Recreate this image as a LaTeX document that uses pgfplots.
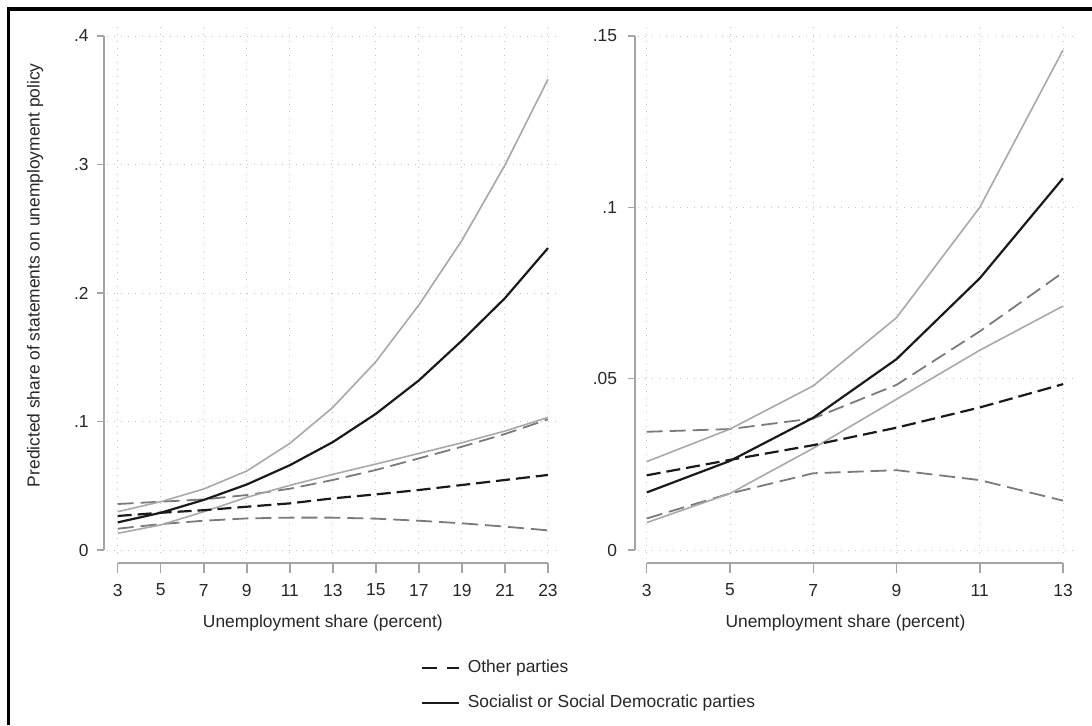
\documentclass[border=0pt]{standalone}
\usepackage{pgfplots}
\pgfplotsset{compat=1.18}
\usepackage{pgfplotstable}
\usepackage{fontspec}
\setmainfont{Liberation Sans}

\definecolor{cilight}{HTML}{A8A8A8}
\definecolor{cidark}{HTML}{7A7A7A}
\definecolor{estc}{HTML}{1A1A1A}
\definecolor{gridc}{HTML}{C4C4C4}
\definecolor{axc}{HTML}{A4A4A4}
\definecolor{txt}{HTML}{262626}

\pgfplotstableread{
x soc sochi soclo oth othhi othlo
3  0.0215 0.0298 0.0130 0.0265 0.0358 0.0166
5  0.0290 0.0376 0.0195 0.0290 0.0376 0.0202
7  0.0390 0.0475 0.0298 0.0310 0.0394 0.0228
9  0.0510 0.0615 0.0410 0.0337 0.0428 0.0246
11 0.0660 0.0830 0.0503 0.0363 0.0477 0.0252
13 0.0840 0.1110 0.0589 0.0402 0.0545 0.0252
15 0.1060 0.1466 0.0669 0.0433 0.0623 0.0244
17 0.1320 0.1907 0.0752 0.0467 0.0713 0.0228
19 0.1630 0.2410 0.0835 0.0506 0.0804 0.0208
21 0.1960 0.2996 0.0926 0.0545 0.0903 0.0182
23 0.2350 0.3663 0.1032 0.0584 0.1017 0.0153
}\leftdata

\pgfplotstableread{
x soc sochi soclo oth othhi othlo
3  0.0168 0.0258 0.0080 0.0218 0.0345 0.0092
5  0.0260 0.0353 0.0165 0.0263 0.0353 0.0165
7  0.0386 0.0479 0.0297 0.0306 0.0384 0.0224
9  0.0557 0.0678 0.0440 0.0357 0.0482 0.0233
11 0.0793 0.1000 0.0583 0.0416 0.0638 0.0204
13 0.1085 0.1459 0.0712 0.0484 0.0810 0.0144
}\rightdata

\tikzset{
  cil/.style={cilight, line width=0.8pt},
  cid/.style={cidark, line width=0.9pt, dash pattern=on 8pt off 3.5pt},
  pest/.style={estc, line width=1.1pt},
  oest/.style={estc, line width=1.1pt, dash pattern=on 7pt off 3pt},
  axl/.style={axc, line width=0.75pt},
}

\pgfplotsset{
  stataaxis/.style={
    scale only axis, height=264pt, clip=false,
    axis line style={draw=none}, tick style={draw=none},
    grid=major,
    grid style={gridc, line width=0.5pt, dash pattern=on 0.5pt off 3pt},
    xticklabel style={anchor=center, inner sep=0pt, yshift=-18.5pt,
      font=\fontsize{8.7}{10}\selectfont, text=txt},
    yticklabel style={anchor=east, inner sep=0pt,
      font=\fontsize{8.7}{10}\selectfont, text=txt},
    xlabel style={font=\fontsize{8.7}{10}\selectfont, text=txt, anchor=center, yshift=-35pt},
    ylabel style={font=\fontsize{8.7}{10}\selectfont, text=txt},
  },
}

\begin{document}
\begin{tikzpicture}
\useasboundingbox (0,0) rectangle (546pt,-362.5pt);
\draw[black, line width=1.6pt, line join=miter] (546pt,-4.5pt) -- (4.2pt,-4.5pt) -- (4.2pt,-362.5pt);

% ---------- left panel ----------
\begin{axis}[stataaxis,
  at={(53.35pt,-276.5pt)}, anchor=south west,
  width=226.15pt,
  xmin=2.488, xmax=23.512, ymin=-0.00233, ymax=0.40856,
  xtick={3,5,7,9,11,13,15,17,19,21,23},
  xticklabels={3,5,7,9,11,13,15,17,19,21,23},
  ytick={0,0.1,0.2,0.3,0.4},
  yticklabels={0,.1,.2,.3,.4},
  yticklabel style={xshift=-8.85pt},
  xlabel={Unemployment share (percent)},
  xlabel style={at={(axis description cs:0.478,0)}},
  ylabel={Predicted share of statements on unemployment policy},
  ylabel style={at={(axis description cs:-0.1585,0.928)}, anchor=east, inner sep=0pt},
  legend style={at={(axis description cs:0.6927,-0.1950)}, anchor=north west,
    draw=none, fill=none, inner sep=0pt,
    font=\fontsize{8.7}{10}\selectfont, text=txt,
    row sep=5.5pt,
    /tikz/every odd column/.append style={column sep=2pt}},
  legend cell align=left,
  legend image code/.code={\draw[#1] (0pt,0pt) -- (18.5pt,0pt);},
]
\draw[axl] (axis cs:2.362,0) -- (axis cs:2.362,0.4);
\pgfplotsinvokeforeach{0,0.1,0.2,0.3,0.4}{\draw[axl] (axis cs:2.362,#1) -- (axis cs:2.036,#1);}
\draw[axl] (axis cs:3,-0.0101) -- (axis cs:23,-0.0101);
\pgfplotsinvokeforeach{3,5,7,9,11,13,15,17,19,21,23}{\draw[axl] (axis cs:#1,-0.0101) -- (axis cs:#1,-0.0179);}

\addplot[cid, forget plot] table[x=x, y=othlo] {\leftdata};
\addplot[cid, forget plot] table[x=x, y=othhi] {\leftdata};
\addplot[cil, forget plot] table[x=x, y=soclo] {\leftdata};
\addplot[cil, forget plot] table[x=x, y=sochi] {\leftdata};
\addplot[oest, forget plot] table[x=x, y=oth] {\leftdata};
\addplot[pest, forget plot] table[x=x, y=soc] {\leftdata};

\addlegendimage{estc, line width=1.2pt, dash pattern=on 7.5pt off 5pt}
\addlegendentry{Other parties}
\addlegendimage{estc, line width=1.2pt}
\addlegendentry{Socialist or Social Democratic parties}
\end{axis}

% ---------- right panel ----------
\begin{axis}[stataaxis,
  at={(319pt,-276.5pt)}, anchor=south west,
  width=217.5pt,
  xmin=2.79, xmax=13.24, ymin=-0.000875, ymax=0.15321,
  xtick={3,5,7,9,11,13},
  xticklabels={3,5,7,9,11,13},
  ytick={0,0.05,0.1,0.15},
  yticklabels={0,.05,.1,.15},
  yticklabel style={xshift=-10.3pt},
  xlabel={Unemployment share (percent)},
  xlabel style={at={(axis description cs:0.477,0)}},
]
\draw[axl] (axis cs:2.719,0) -- (axis cs:2.719,0.15);
\pgfplotsinvokeforeach{0,0.05,0.1,0.15}{\draw[axl] (axis cs:2.719,#1) -- (axis cs:2.551,#1);}
\draw[axl] (axis cs:3,-0.0038) -- (axis cs:13,-0.0038);
\pgfplotsinvokeforeach{3,5,7,9,11,13}{\draw[axl] (axis cs:#1,-0.0038) -- (axis cs:#1,-0.0067);}

\addplot[cid] table[x=x, y=othlo] {\rightdata};
\addplot[cid] table[x=x, y=othhi] {\rightdata};
\addplot[cil] table[x=x, y=soclo] {\rightdata};
\addplot[cil] table[x=x, y=sochi] {\rightdata};
\addplot[oest] table[x=x, y=oth] {\rightdata};
\addplot[pest] table[x=x, y=soc] {\rightdata};
\end{axis}
\end{tikzpicture}
\end{document}
